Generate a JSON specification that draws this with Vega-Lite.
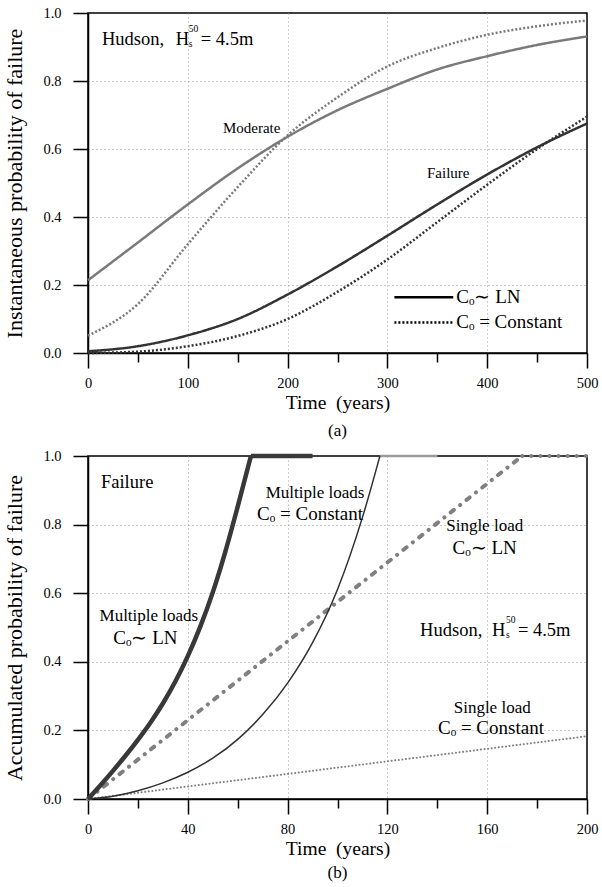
{
  "$schema": "https://vega.github.io/schema/vega-lite/v6.json",
  "padding": {"left": 3, "top": 4, "right": 5, "bottom": 0},
  "spacing": 6,
  "config": {
    "font": "Liberation Serif",
    "view": {"stroke": "black", "strokeWidth": 1.5},
    "axis": {
      "domainColor": "black", "domainWidth": 1.5,
      "tickColor": "black", "tickWidth": 1.5,
      "labelFont": "Liberation Serif", "labelFontSize": 14.5, "labelColor": "black",
      "labelFlush": false, "labelOverlap": false, "labelBound": false,
      "titleFont": "Liberation Serif", "titleFontSize": 19.5, "titleFontWeight": "normal", "titleColor": "black",
      "gridColor": "#9a9a9a", "gridDash": [1, 3], "gridWidth": 1
    },
    "text": {"font": "Liberation Serif", "color": "black"},
    "title": {"font": "Liberation Serif", "fontWeight": "normal", "color": "black"}
  },
  "datasets": {
    "top": [
      {"t": 0, "p": 0.214, "group": "Moderate", "dash": "LN"},
      {"t": 50, "p": 0.325, "group": "Moderate", "dash": "LN"},
      {"t": 100, "p": 0.437, "group": "Moderate", "dash": "LN"},
      {"t": 150, "p": 0.543, "group": "Moderate", "dash": "LN"},
      {"t": 200, "p": 0.636, "group": "Moderate", "dash": "LN"},
      {"t": 250, "p": 0.714, "group": "Moderate", "dash": "LN"},
      {"t": 300, "p": 0.777, "group": "Moderate", "dash": "LN"},
      {"t": 350, "p": 0.834, "group": "Moderate", "dash": "LN"},
      {"t": 400, "p": 0.873, "group": "Moderate", "dash": "LN"},
      {"t": 450, "p": 0.906, "group": "Moderate", "dash": "LN"},
      {"t": 500, "p": 0.931, "group": "Moderate", "dash": "LN"},
      {"t": 0, "p": 0.051, "group": "Moderate", "dash": "Constant"},
      {"t": 50, "p": 0.144, "group": "Moderate", "dash": "Constant"},
      {"t": 100, "p": 0.32, "group": "Moderate", "dash": "Constant"},
      {"t": 150, "p": 0.488, "group": "Moderate", "dash": "Constant"},
      {"t": 200, "p": 0.64, "group": "Moderate", "dash": "Constant"},
      {"t": 250, "p": 0.752, "group": "Moderate", "dash": "Constant"},
      {"t": 300, "p": 0.843, "group": "Moderate", "dash": "Constant"},
      {"t": 350, "p": 0.897, "group": "Moderate", "dash": "Constant"},
      {"t": 400, "p": 0.936, "group": "Moderate", "dash": "Constant"},
      {"t": 450, "p": 0.961, "group": "Moderate", "dash": "Constant"},
      {"t": 500, "p": 0.978, "group": "Moderate", "dash": "Constant"},
      {"t": 0, "p": 0.005, "group": "Failure", "dash": "LN"},
      {"t": 50, "p": 0.02, "group": "Failure", "dash": "LN"},
      {"t": 100, "p": 0.052, "group": "Failure", "dash": "LN"},
      {"t": 150, "p": 0.1, "group": "Failure", "dash": "LN"},
      {"t": 200, "p": 0.172, "group": "Failure", "dash": "LN"},
      {"t": 250, "p": 0.255, "group": "Failure", "dash": "LN"},
      {"t": 300, "p": 0.345, "group": "Failure", "dash": "LN"},
      {"t": 350, "p": 0.437, "group": "Failure", "dash": "LN"},
      {"t": 400, "p": 0.525, "group": "Failure", "dash": "LN"},
      {"t": 450, "p": 0.605, "group": "Failure", "dash": "LN"},
      {"t": 500, "p": 0.675, "group": "Failure", "dash": "LN"},
      {"t": 0, "p": 0.0, "group": "Failure", "dash": "Constant"},
      {"t": 50, "p": 0.004, "group": "Failure", "dash": "Constant"},
      {"t": 100, "p": 0.02, "group": "Failure", "dash": "Constant"},
      {"t": 150, "p": 0.05, "group": "Failure", "dash": "Constant"},
      {"t": 200, "p": 0.1, "group": "Failure", "dash": "Constant"},
      {"t": 250, "p": 0.18, "group": "Failure", "dash": "Constant"},
      {"t": 300, "p": 0.275, "group": "Failure", "dash": "Constant"},
      {"t": 350, "p": 0.385, "group": "Failure", "dash": "Constant"},
      {"t": 400, "p": 0.495, "group": "Failure", "dash": "Constant"},
      {"t": 450, "p": 0.6, "group": "Failure", "dash": "Constant"},
      {"t": 500, "p": 0.695, "group": "Failure", "dash": "Constant"}
    ],
    "bottom": [
      {"t": 0, "p": 0, "series": "Single Constant"},
      {"t": 200, "p": 0.183, "series": "Single Constant"},
      {"t": 0, "p": 0, "series": "Single LN"},
      {"t": 174, "p": 1.0, "series": "Single LN"},
      {"t": 174, "p": 1.0, "series": "Single LN plateau"},
      {"t": 200, "p": 1.0, "series": "Single LN plateau"},
      {"t": 117, "p": 1.0, "series": "Multiple Constant plateau"},
      {"t": 140, "p": 1.0, "series": "Multiple Constant plateau"},
      {"t": 0, "p": 0, "series": "Multiple Constant"},
      {"t": 10, "p": 0.008, "series": "Multiple Constant"},
      {"t": 20, "p": 0.024, "series": "Multiple Constant"},
      {"t": 30, "p": 0.047, "series": "Multiple Constant"},
      {"t": 40, "p": 0.078, "series": "Multiple Constant"},
      {"t": 50, "p": 0.119, "series": "Multiple Constant"},
      {"t": 60, "p": 0.174, "series": "Multiple Constant"},
      {"t": 70, "p": 0.246, "series": "Multiple Constant"},
      {"t": 80, "p": 0.338, "series": "Multiple Constant"},
      {"t": 90, "p": 0.456, "series": "Multiple Constant"},
      {"t": 100, "p": 0.611, "series": "Multiple Constant"},
      {"t": 110, "p": 0.821, "series": "Multiple Constant"},
      {"t": 117, "p": 1.0, "series": "Multiple Constant"},
      {"t": 0, "p": 0, "series": "Multiple LN"},
      {"t": 5, "p": 0.04, "series": "Multiple LN"},
      {"t": 10, "p": 0.082, "series": "Multiple LN"},
      {"t": 15, "p": 0.126, "series": "Multiple LN"},
      {"t": 20, "p": 0.1725, "series": "Multiple LN"},
      {"t": 25, "p": 0.2225, "series": "Multiple LN"},
      {"t": 30, "p": 0.2785, "series": "Multiple LN"},
      {"t": 35, "p": 0.3425, "series": "Multiple LN"},
      {"t": 40, "p": 0.4165, "series": "Multiple LN"},
      {"t": 45, "p": 0.5025, "series": "Multiple LN"},
      {"t": 50, "p": 0.6025, "series": "Multiple LN"},
      {"t": 55, "p": 0.72, "series": "Multiple LN"},
      {"t": 60, "p": 0.8525, "series": "Multiple LN"},
      {"t": 65.3, "p": 1.0, "series": "Multiple LN"},
      {"t": 65.3, "p": 1.0, "series": "Multiple LN plateau"},
      {"t": 90, "p": 1.0, "series": "Multiple LN plateau"}
    ]
  },
  "vconcat": [
    {
      "width": 499,
      "height": 340,
      "title": {"text": "(a)", "orient": "bottom", "fontSize": 17, "offset": 11},
      "layer": [
        {
          "data": {"name": "top"},
          "mark": {"type": "line", "strokeWidth": 2.5, "interpolate": "monotone"},
          "encoding": {
            "x": {"field": "t", "type": "quantitative",
              "scale": {"domain": [0, 500], "nice": false},
              "axis": {
                "title": "Time \u00a0(years)",
                "titleFontWeight": "normal",
                "values": [0, 50, 100, 150, 200, 250, 300, 350, 400, 450, 500],
                "labelExpr": "datum.value % 100 === 0 ? datum.label : ''",
                "tickSize": {"condition": {"test": "datum.value % 100 !== 0", "value": 9}, "value": 15},
                "gridOpacity": {"condition": {"test": "datum.value % 100 !== 0 || datum.value === 0 || datum.value === 500", "value": 0}, "value": 1},
                "grid": true,
                "labelPadding": 8,
                "titlePadding": 4
              }},
            "y": {"field": "p", "type": "quantitative",
              "scale": {"domain": [0, 1], "nice": false},
              "axis": {
                "title": "Instantaneous probability of failure",
                "titleFontWeight": "normal",
                "titleFontSize": 22,
                "values": [0, 0.1, 0.2, 0.3, 0.4, 0.5, 0.6, 0.7, 0.8, 0.9, 1.0],
                "format": ".1f",
                "labelExpr": "round(datum.value*10) % 2 === 0 ? datum.label : ''",
                "tickSize": {"condition": {"test": "round(datum.value*10) % 2 === 1", "value": 9}, "value": 15},
                "gridOpacity": {"condition": {"test": "round(datum.value*10) % 2 === 1 || datum.value === 0 || datum.value === 1", "value": 0}, "value": 1},
                "grid": true,
                "labelPadding": 12,
                "titlePadding": 16
              }},
            "color": {"field": "group", "type": "nominal",
              "scale": {"domain": ["Moderate", "Failure"], "range": ["#7a7a7a", "#333333"]}, "legend": null},
            "strokeDash": {"field": "dash", "type": "nominal",
              "scale": {"domain": ["LN", "Constant"], "range": [[1, 0], [2, 2]]}, "legend": null}
          }
        },
        {
          "data": {"values": [
            {"t": 307, "t2": 366, "p": 0.164, "dash": "LN"},
            {"t": 307, "t2": 366, "p": 0.09, "dash": "Constant"}
          ]},
          "mark": {"type": "rule", "strokeWidth": 2.5, "color": "black"},
          "encoding": {
            "x": {"field": "t", "type": "quantitative"},
            "x2": {"field": "t2"},
            "y": {"field": "p", "type": "quantitative"},
            "strokeDash": {"field": "dash", "type": "nominal", "legend": null}
          }
        },
        {
          "data": {"values": [
            {"t": 369, "p": 0.164, "label": "C\u2092\u223c LN"},
            {"t": 369, "p": 0.09, "label": "C\u2092 = Constant"}
          ]},
          "mark": {"type": "text", "fontSize": 19, "align": "left", "baseline": "middle"},
          "encoding": {
            "x": {"field": "t", "type": "quantitative"},
            "y": {"field": "p", "type": "quantitative"},
            "text": {"field": "label"}
          }
        },
        {
          "data": {"values": [
            {"t": 14, "p": 0.905, "label": "Hudson,"},
            {"t": 88, "p": 0.905, "label": "H"},
            {"t": 113, "p": 0.905, "label": "= 4.5m"}
          ]},
          "mark": {"type": "text", "fontSize": 18.5, "align": "left", "baseline": "alphabetic"},
          "encoding": {
            "x": {"field": "t", "type": "quantitative"},
            "y": {"field": "p", "type": "quantitative"},
            "text": {"field": "label"}
          }
        },
        {
          "data": {"values": [
            {"t": 101, "p": 0.899, "label": "s"},
            {"t": 101, "p": 0.944, "label": "50"}
          ]},
          "mark": {"type": "text", "fontSize": 9.5, "align": "left", "baseline": "alphabetic"},
          "encoding": {
            "x": {"field": "t", "type": "quantitative"},
            "y": {"field": "p", "type": "quantitative"},
            "text": {"field": "label"}
          }
        },
        {
          "data": {"values": [
            {"t": 164, "p": 0.663, "label": "Moderate"},
            {"t": 361, "p": 0.53, "label": "Failure"}
          ]},
          "mark": {"type": "text", "fontSize": 15, "align": "center", "baseline": "middle"},
          "encoding": {
            "x": {"field": "t", "type": "quantitative"},
            "y": {"field": "p", "type": "quantitative"},
            "text": {"field": "label"}
          }
        }
      ]
    },
    {
      "width": 499,
      "height": 343,
      "title": {"text": "(b)", "orient": "bottom", "fontSize": 17, "offset": 7},
      "layer": [
        {
          "data": {"name": "bottom"},
          "transform": [{"filter": "datum.series === 'Single Constant'"}],
          "mark": {"type": "line", "color": "#808080", "strokeWidth": 2, "strokeDash": [0.1, 3.5], "strokeCap": "round"},
          "encoding": {
            "x": {"field": "t", "type": "quantitative",
              "scale": {"domain": [0, 200], "nice": false},
              "axis": {
                "title": "Time \u00a0(years)",
                "titleFontWeight": "normal",
                "values": [0, 20, 40, 60, 80, 100, 120, 140, 160, 180, 200],
                "labelExpr": "datum.value % 40 === 0 ? datum.label : ''",
                "tickSize": {"condition": {"test": "datum.value % 40 !== 0", "value": 9}, "value": 15},
                "gridOpacity": {"condition": {"test": "datum.value % 40 !== 0 || datum.value === 0 || datum.value === 200", "value": 0}, "value": 1},
                "grid": true,
                "labelPadding": 8,
                "titlePadding": 4
              }},
            "y": {"field": "p", "type": "quantitative",
              "scale": {"domain": [0, 1], "nice": false},
              "axis": {
                "title": "Accumulated probability of failure",
                "titleFontWeight": "normal",
                "titleFontSize": 22,
                "values": [0, 0.1, 0.2, 0.3, 0.4, 0.5, 0.6, 0.7, 0.8, 0.9, 1.0],
                "format": ".1f",
                "labelExpr": "round(datum.value*10) % 2 === 0 ? datum.label : ''",
                "tickSize": {"condition": {"test": "round(datum.value*10) % 2 === 1", "value": 9}, "value": 15},
                "gridOpacity": {"condition": {"test": "round(datum.value*10) % 2 === 1 || datum.value === 0 || datum.value === 1", "value": 0}, "value": 1},
                "grid": true,
                "labelPadding": 12,
                "titlePadding": 16
              }}
          }
        },
        {
          "data": {"name": "bottom"},
          "transform": [{"filter": "datum.series === 'Single LN'"}],
          "mark": {"type": "line", "color": "#808080", "strokeWidth": 4, "strokeDash": [4, 8, 0.1, 8], "strokeCap": "round"},
          "encoding": {
            "x": {"field": "t", "type": "quantitative"},
            "y": {"field": "p", "type": "quantitative"}
          }
        },
        {
          "data": {"name": "bottom"},
          "transform": [{"filter": "datum.series === 'Single LN plateau'"}],
          "mark": {"type": "line", "color": "#808080", "strokeWidth": 4, "strokeDash": [0.1, 9], "strokeCap": "round"},
          "encoding": {
            "x": {"field": "t", "type": "quantitative"},
            "y": {"field": "p", "type": "quantitative"}
          }
        },
        {
          "data": {"name": "bottom"},
          "transform": [{"filter": "datum.series === 'Multiple Constant plateau'"}],
          "mark": {"type": "line", "color": "#9a9a9a", "strokeWidth": 2.5},
          "encoding": {
            "x": {"field": "t", "type": "quantitative"},
            "y": {"field": "p", "type": "quantitative"}
          }
        },
        {
          "data": {"name": "bottom"},
          "transform": [{"filter": "datum.series === 'Multiple Constant'"}],
          "mark": {"type": "line", "color": "#303030", "strokeWidth": 1.5, "interpolate": "monotone"},
          "encoding": {
            "x": {"field": "t", "type": "quantitative"},
            "y": {"field": "p", "type": "quantitative"}
          }
        },
        {
          "data": {"name": "bottom"},
          "transform": [{"filter": "datum.series === 'Multiple LN'"}],
          "mark": {"type": "line", "color": "#383838", "strokeWidth": 4.5, "interpolate": "monotone"},
          "encoding": {
            "x": {"field": "t", "type": "quantitative"},
            "y": {"field": "p", "type": "quantitative"}
          }
        },
        {
          "data": {"name": "bottom"},
          "transform": [{"filter": "datum.series === 'Multiple LN plateau'"}],
          "mark": {"type": "line", "color": "#383838", "strokeWidth": 4.5},
          "encoding": {
            "x": {"field": "t", "type": "quantitative"},
            "y": {"field": "p", "type": "quantitative"}
          }
        },
        {
          "data": {"values": [
            {"t": 89, "p": 0.831, "label": "C\u2092 = Constant"},
            {"t": 159, "p": 0.731, "label": "C\u2092\u223c LN"},
            {"t": 23, "p": 0.469, "label": "C\u2092\u223c LN"},
            {"t": 161.5, "p": 0.207, "label": "C\u2092 = Constant"}
          ]},
          "mark": {"type": "text", "fontSize": 19, "align": "center", "baseline": "middle"},
          "encoding": {
            "x": {"field": "t", "type": "quantitative"},
            "y": {"field": "p", "type": "quantitative"},
            "text": {"field": "label"}
          }
        },
        {
          "data": {"values": [
            {"t": 91, "p": 0.892, "label": "Multiple loads"},
            {"t": 159, "p": 0.797, "label": "Single load"},
            {"t": 24.4, "p": 0.534, "label": "Multiple loads"},
            {"t": 162, "p": 0.265, "label": "Single load"}
          ]},
          "mark": {"type": "text", "fontSize": 17, "align": "center", "baseline": "middle"},
          "encoding": {
            "x": {"field": "t", "type": "quantitative"},
            "y": {"field": "p", "type": "quantitative"},
            "text": {"field": "label"}
          }
        },
        {
          "data": {"values": [
            {"t": 5.2, "p": 0.924, "label": "Failure"}
          ]},
          "mark": {"type": "text", "fontSize": 18.5, "align": "left", "baseline": "middle"},
          "encoding": {
            "x": {"field": "t", "type": "quantitative"},
            "y": {"field": "p", "type": "quantitative"},
            "text": {"field": "label"}
          }
        },
        {
          "data": {"values": [
            {"t": 133.1, "p": 0.474, "label": "Hudson,"},
            {"t": 161.9, "p": 0.474, "label": "H"},
            {"t": 172.3, "p": 0.474, "label": "= 4.5m"}
          ]},
          "mark": {"type": "text", "fontSize": 18.5, "align": "left", "baseline": "alphabetic"},
          "encoding": {
            "x": {"field": "t", "type": "quantitative"},
            "y": {"field": "p", "type": "quantitative"},
            "text": {"field": "label"}
          }
        },
        {
          "data": {"values": [
            {"t": 167.5, "p": 0.468, "label": "s"},
            {"t": 167.5, "p": 0.513, "label": "50"}
          ]},
          "mark": {"type": "text", "fontSize": 9.5, "align": "left", "baseline": "alphabetic"},
          "encoding": {
            "x": {"field": "t", "type": "quantitative"},
            "y": {"field": "p", "type": "quantitative"},
            "text": {"field": "label"}
          }
        }
      ]
    }
  ]
}
